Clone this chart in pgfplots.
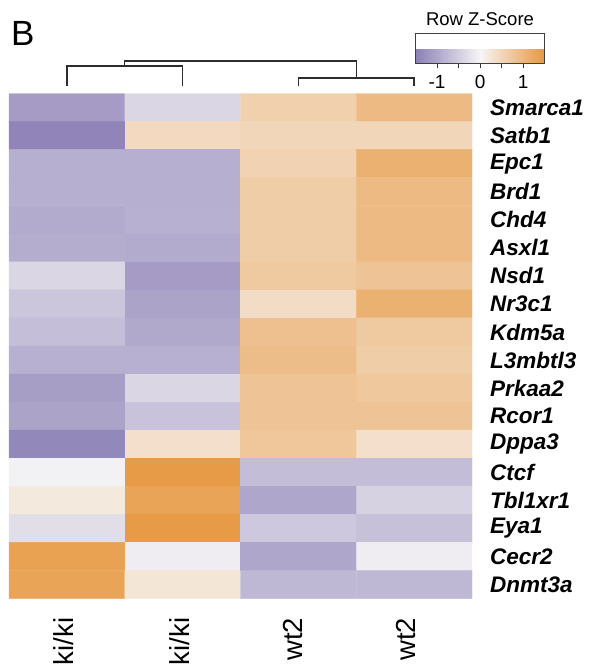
\documentclass[border=0pt]{standalone}
\usepackage{fontspec}
\setmainfont{Liberation Sans}
\usepackage{pgfplots}
\pgfplotsset{compat=1.18}
\usepackage{pgfplotstable}
\pgfplotstableread{
x y z
0 0 -1.15
1 0 -0.40
2 0 0.60
3 0 0.95
0 1 -1.45
1 1 0.45
2 1 0.50
3 1 0.50
0 2 -0.90
1 2 -0.90
2 2 0.55
3 2 1.10
0 3 -0.90
1 3 -0.90
2 3 0.65
3 3 0.95
0 4 -0.95
1 4 -0.88
2 4 0.65
3 4 0.95
0 5 -0.92
1 5 -0.95
2 5 0.65
3 5 0.95
0 6 -0.40
1 6 -1.15
2 6 0.70
3 6 0.80
0 7 -0.60
1 7 -1.05
2 7 0.40
3 7 1.10
0 8 -0.70
1 8 -0.98
2 8 0.85
3 8 0.70
0 9 -0.88
1 9 -0.88
2 9 0.90
3 9 0.65
0 10 -1.12
1 10 -0.40
2 10 0.80
3 10 0.72
0 11 -1.05
1 11 -0.65
2 11 0.80
3 11 0.80
0 12 -1.40
1 12 0.35
2 12 0.75
3 12 0.35
0 13 -0.05
1 13 1.45
2 13 -0.72
3 13 -0.72
0 14 0.20
1 14 1.30
2 14 -1.00
3 14 -0.45
0 15 -0.30
1 15 1.45
2 15 -0.58
3 15 -0.68
0 16 1.35
1 16 -0.10
2 16 -1.00
3 16 -0.10
0 17 1.30
1 17 0.25
2 17 -0.78
3 17 -0.78
}\heatdata
\definecolor{dendro}{RGB}{45,45,45}
\begin{document}
\begin{tikzpicture}
\useasboundingbox (0,0) rectangle (590pt,669pt);
\begin{axis}[
  at={(9pt,70.5pt)}, anchor=south west,
  scale only axis, width=463pt, height=505pt,
  xmin=-0.5, xmax=3.5, ymin=-0.5, ymax=17.5, y dir=reverse,
  clip=false,
  axis line style={draw=none},
  major tick length=0pt,
  colormap={zscore}{rgb255(0cm)=(140,128,182); rgb255(1cm)=(246,245,245); rgb255(2cm)=(231,152,64)},
  point meta min=-1.5, point meta max=1.5,
  xtick={-0.03,0.977,1.954,2.93},
  xticklabels={ki/ki,ki/ki,wt2,wt2},
  xticklabel style={rotate=90, anchor=east, inner sep=0pt, font=\fontsize{27.5}{27.5}\selectfont},
  xticklabel shift=19pt,
  ytick={0,...,17},
  yticklabels={Smarca1,Satb1,Epc1,Brd1,Chd4,Asxl1,Nsd1,Nr3c1,Kdm5a,L3mbtl3,Prkaa2,Rcor1,Dppa3,Ctcf,Tbl1xr1,Eya1,Cecr2,Dnmt3a},
  yticklabel pos=right,
  yticklabel style={anchor=west, inner sep=0pt, font=\fontsize{22.5}{22.5}\selectfont\bfseries\itshape},
  yticklabel shift=18pt,
  colorbar horizontal,
  colorbar style={
    at={(0.878,1.118)}, anchor=north west,
    scale only axis, width=129.3pt, height=30pt,
    xtick={-1,-0.5,0,0.5,1},
    xticklabels={-1,,0,,1},
    xticklabel style={font=\fontsize{19}{19}\selectfont, inner sep=1pt, yshift=-6pt},
    xtick pos=left,
    tick align=outside,
    major tick length=4.5pt,
    tick style={draw=black!80, line width=0.9pt},
    axis line style={draw=black!75, line width=0.9pt},
    ytick=\empty,
  },
]
\addplot[matrix plot*, mesh/cols=4, mesh/ordering=x varies, point meta=explicit]
  table[x=x, y=y, meta=z] {\heatdata};
% dendrogram
\addplot[dendro, line width=1.3pt] coordinates {(0,-0.767) (0,-1.48) (1,-1.48) (1,-0.767)};
\addplot[dendro, line width=1.3pt] coordinates {(2,-0.767) (2,-1.052) (3,-1.052) (3,-0.767)};
\addplot[dendro, line width=1.3pt] coordinates {(0.5,-1.48) (0.5,-1.658) (2.5,-1.658) (2.5,-1.052)};
\end{axis}
\node[anchor=base west, inner sep=0pt, font=\fontsize{35}{35}\selectfont] at (11pt,623pt) {B};
\node[anchor=base, inner sep=0pt, font=\fontsize{18.5}{18.5}\selectfont] at (480pt,643pt) {Row Z-Score};
\end{tikzpicture}
\end{document}
